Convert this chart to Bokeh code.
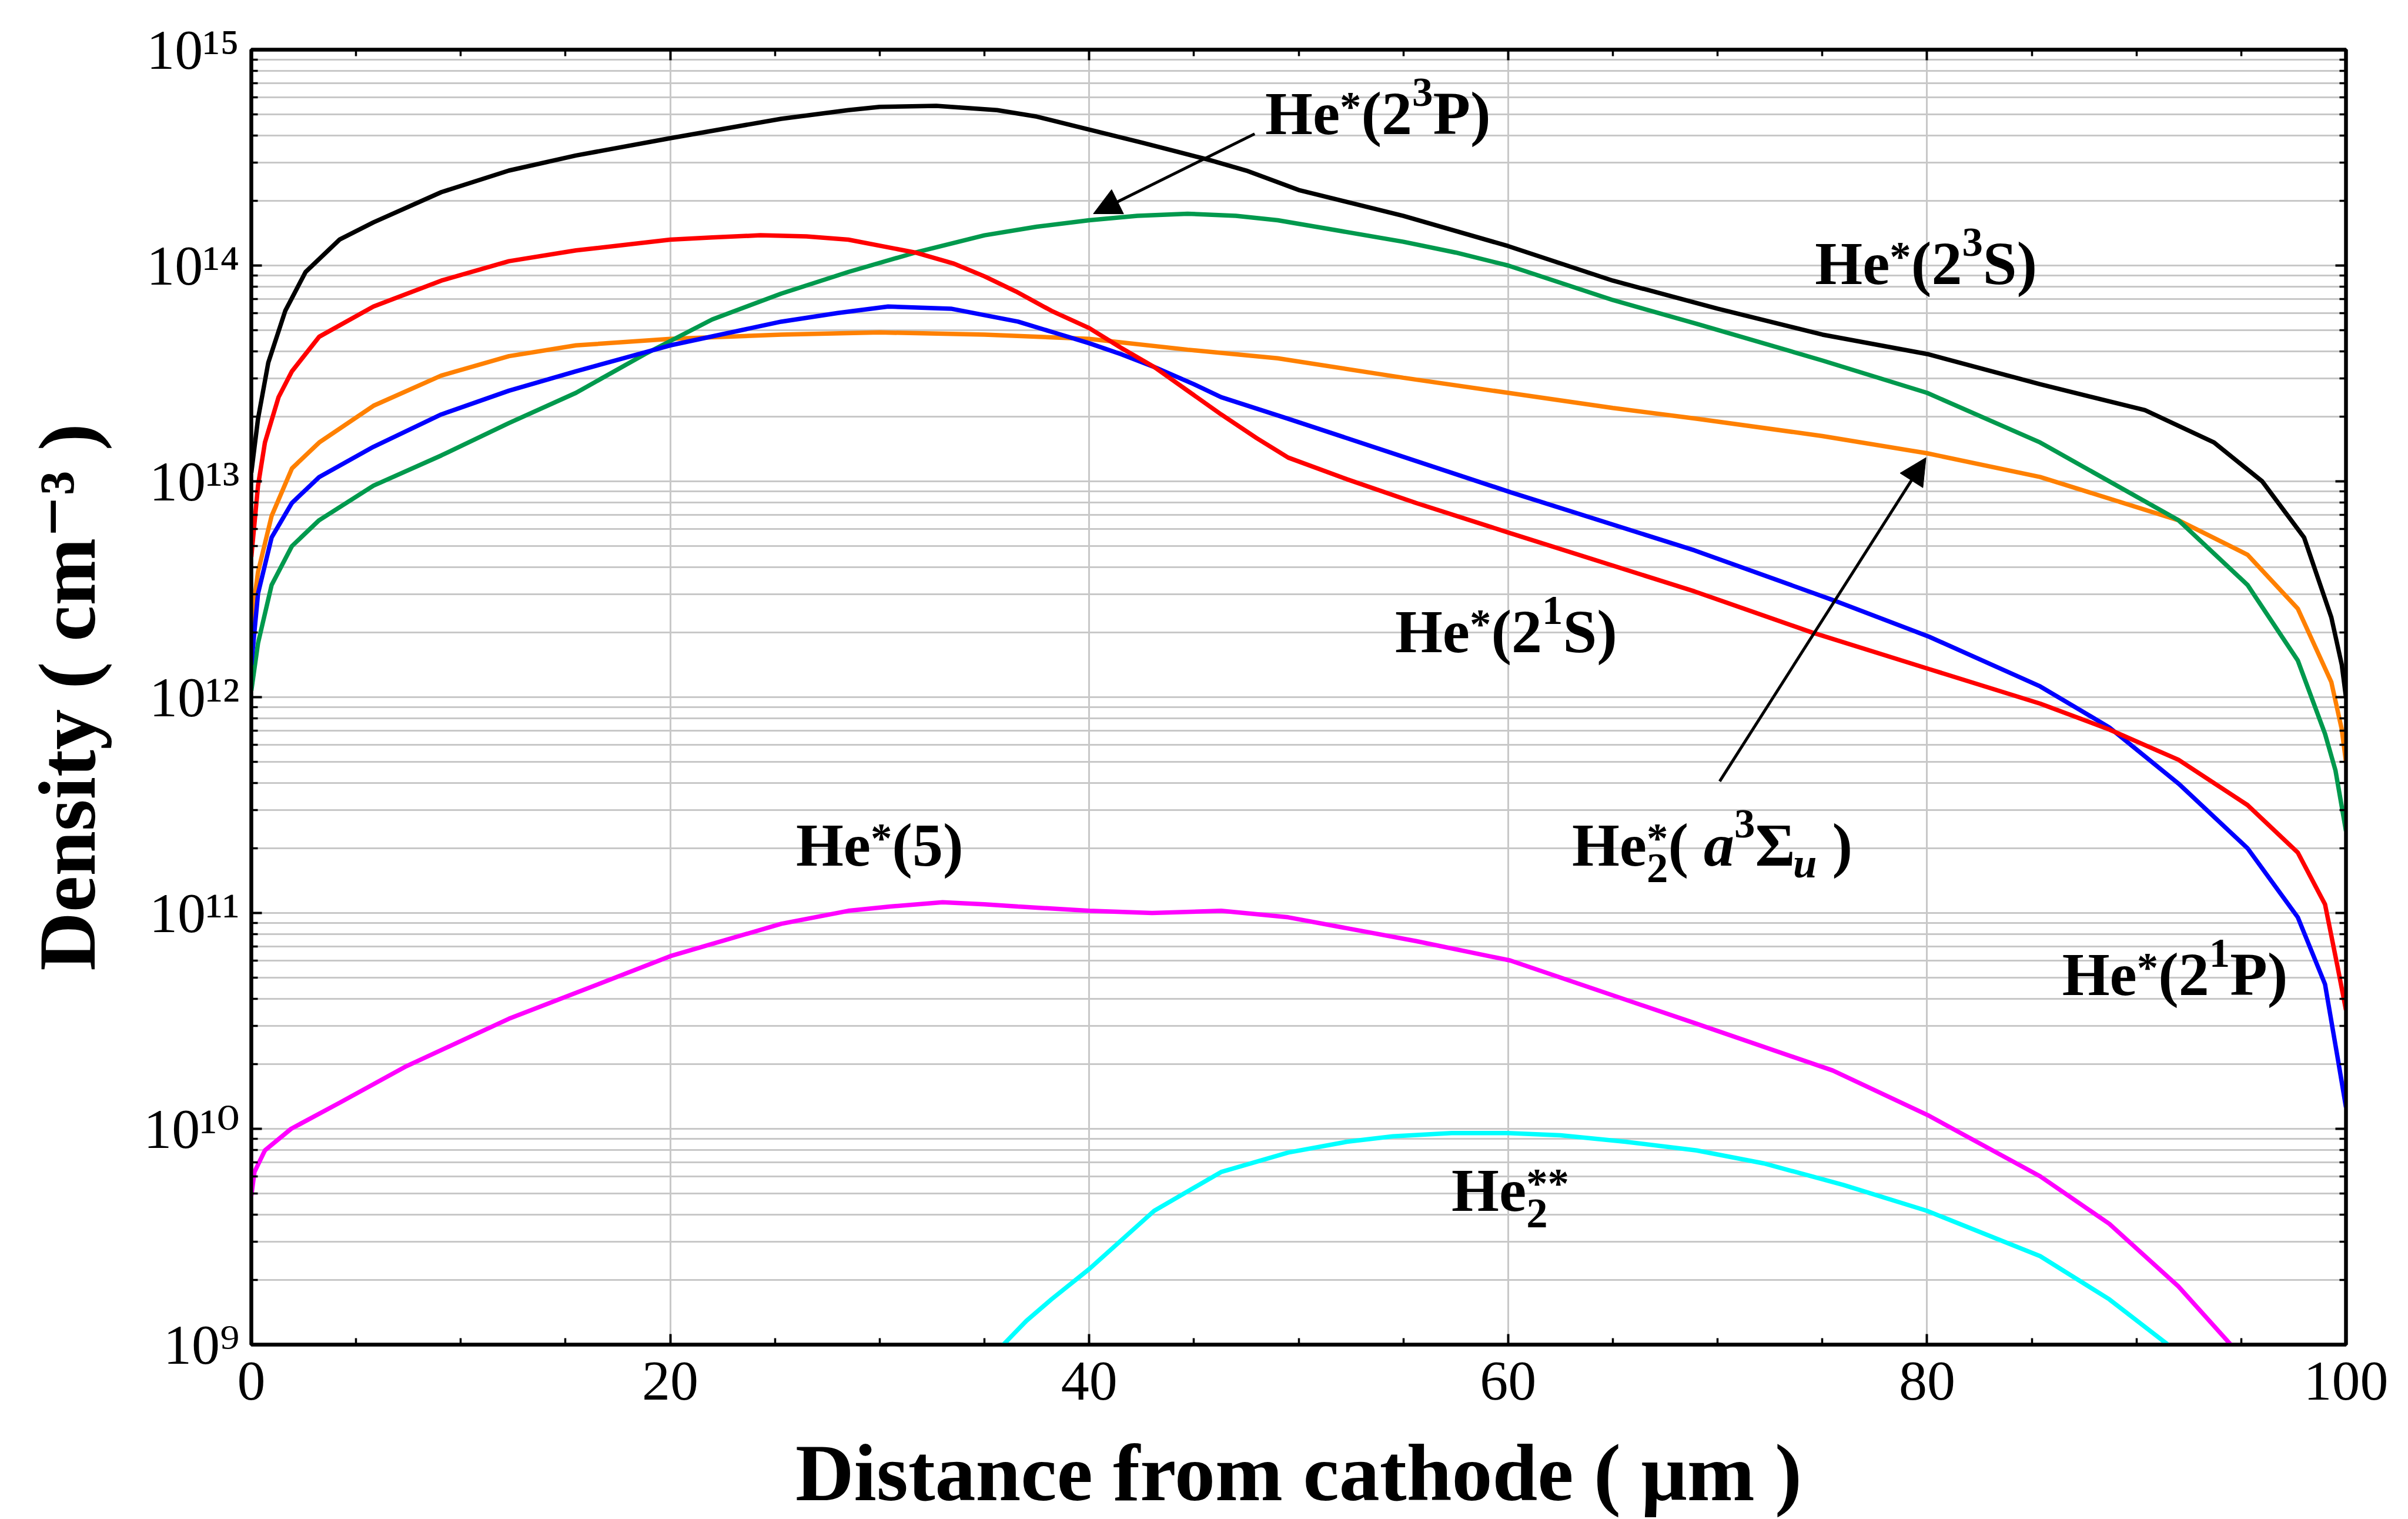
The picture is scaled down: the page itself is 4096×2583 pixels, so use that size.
import numpy as np
from bokeh.plotting import figure
from bokeh.models import (Range1d, LinearAxis, LogAxis, FixedTicker, CustomJSTickFormatter,
                          Label, Arrow, NormalHead)
from bokeh.embed import file_html
from bokeh.resources import INLINE

# ---------------- data (densities as log10 of cm^-3) ----------------
x_ticks = [0, 20, 40, 60, 80, 100]
x_minor = [5, 10, 15, 25, 30, 35, 45, 50, 55, 65, 70, 75, 85, 90, 95]
y_exponents = [9, 10, 11, 12, 13, 14, 15]
y_mantissas = [2, 3, 4, 5, 6, 7, 8, 9]

x_23S = [0, 0.32, 0.81, 1.62, 2.59, 4.21, 5.83, 9.07, 12.3, 15.5, 20, 25.3, 28.5, 30, 32.7,
         35.6, 37.5, 40, 42.5, 45.7, 47.5, 50, 55, 60, 65, 70, 75, 80, 85.4, 90.4, 93.7, 96,
         98, 99.3, 99.8, 100]
lg_23S = [13.04, 13.29, 13.55, 13.79, 13.97, 14.12, 14.20, 14.34, 14.44, 14.51, 14.59, 14.68,
          14.72, 14.735, 14.74, 14.72, 14.69, 14.63, 14.57, 14.49, 14.44, 14.35, 14.23, 14.09,
          13.93, 13.80, 13.68, 13.59, 13.45, 13.33, 13.18, 13.00, 12.74, 12.37, 12.15, 12.00]

x_21S = [0, 0.32, 0.65, 1.3, 1.94, 3.24, 5.83, 9.07, 12.3, 15.5, 20, 22, 24.3, 26.5, 28.5,
         31.7, 33.5, 35, 36.5, 38.2, 40, 41.5, 43.1, 44.7, 46.3, 48, 49.5, 52.3, 55.6, 60.1,
         68.9, 74.5, 80.1, 85.4, 88.7, 92, 95.3, 97.7, 99, 99.6, 100]
lg_21S = [12.65, 12.98, 13.18, 13.39, 13.51, 13.67, 13.81, 13.93, 14.02, 14.07, 14.12, 14.13,
          14.14, 14.135, 14.12, 14.06, 14.01, 13.95, 13.88, 13.79, 13.71, 13.62, 13.53, 13.42,
          13.31, 13.20, 13.11, 13.01, 12.90, 12.76, 12.49, 12.30, 12.13, 11.97, 11.85, 11.71,
          11.50, 11.28, 11.04, 10.75, 10.55]

x_21P = [0, 0.32, 0.97, 1.94, 3.24, 5.83, 9.07, 12.3, 15.5, 20, 25.3, 28, 30.4, 33.4, 36.6,
         38.3, 40, 41.5, 43.1, 45, 46.3, 49.5, 60.1, 68.9, 75.5, 80.1, 85.4, 88.7, 92, 95.3,
         97.7, 99, 99.6, 100]
lg_21P = [12.15, 12.48, 12.74, 12.90, 13.02, 13.16, 13.31, 13.42, 13.51, 13.63, 13.74, 13.78,
          13.81, 13.80, 13.74, 13.69, 13.64, 13.59, 13.53, 13.45, 13.39, 13.29, 12.95, 12.68,
          12.45, 12.28, 12.05, 11.86, 11.60, 11.30, 10.98, 10.67, 10.33, 10.10]

x_23P = [0, 0.32, 0.97, 1.94, 3.24, 5.83, 9.07, 12.3, 15.5, 18.8, 22, 25.3, 28.5, 31.7, 35,
         37.5, 40, 42.3, 44.7, 47, 49, 52, 55, 57.5, 60, 65, 69, 75, 80, 85.4, 92, 95.3, 97.7,
         99, 99.5, 100]
lg_23P = [12.03, 12.25, 12.52, 12.70, 12.82, 12.98, 13.12, 13.27, 13.41, 13.59, 13.75, 13.87,
          13.97, 14.06, 14.14, 14.18, 14.21, 14.23, 14.24, 14.23, 14.21, 14.16, 14.11, 14.06,
          14.00, 13.84, 13.73, 13.56, 13.41, 13.18, 12.82, 12.52, 12.17, 11.83, 11.66, 11.38]

x_a3 = [0, 0.32, 0.97, 1.94, 3.24, 5.83, 9.07, 12.3, 15.5, 20, 25.3, 30, 35, 40, 44.7, 49, 55,
        60, 65, 69, 75, 80, 85.4, 92, 95.3, 97.7, 99.3, 99.8, 100]
lg_a3 = [12.35, 12.58, 12.84, 13.06, 13.18, 13.35, 13.49, 13.58, 13.63, 13.66, 13.68, 13.69,
         13.68, 13.66, 13.61, 13.57, 13.48, 13.41, 13.34, 13.29, 13.21, 13.13, 13.02, 12.82,
         12.66, 12.41, 12.07, 11.85, 11.70]

x_he5 = [0, 0.15, 0.65, 1.9, 4.2, 7.4, 12.3, 15.5, 20, 25.3, 28.5, 30.5, 33, 35, 36.6, 40, 43,
         46.3, 49.5, 55.6, 60.1, 68.9, 75.5, 80.1, 85.4, 88.7, 92, 94.5]
lg_he5 = [9.69, 9.80, 9.90, 10.00, 10.12, 10.29, 10.51, 10.63, 10.80, 10.95, 11.01, 11.03, 11.05,
          11.04, 11.03, 11.01, 11.00, 11.01, 10.98, 10.87, 10.78, 10.49, 10.27, 10.06, 9.78,
          9.56, 9.27, 9.00]

x_he2ss = [35.9, 37, 38.2, 40, 43.1, 46.3, 49.5, 52.3, 54.5, 57.3, 60, 62.5, 65.6, 69, 72.2, 76,
           80, 85.4, 88.7, 91.5]
lg_he2ss = [9.00, 9.11, 9.21, 9.35, 9.62, 9.80, 9.89, 9.94, 9.965, 9.98, 9.98, 9.97, 9.94, 9.90,
            9.84, 9.74, 9.62, 9.41, 9.21, 9.00]

series = [
    (x_23S, lg_23S, "#000000"),
    (x_a3, lg_a3, "#ff8000"),
    (x_23P, lg_23P, "#00994d"),
    (x_21P, lg_21P, "#0000ff"),
    (x_21S, lg_21S, "#ff0000"),
    (x_he5, lg_he5, "#ff00ff"),
    (x_he2ss, lg_he2ss, "#00ffff"),
]

# ---------------- figure ----------------
FONT = "Liberation Serif"
TICKFONT = "Liberation Serif, DejaVu Serif"
p = figure(width=4096, height=2583, output_backend="svg", toolbar_location=None,
           x_range=Range1d(0, 100), y_range=Range1d(1e9, 1e15), y_axis_type="log",
           min_border_left=427, min_border_right=106, min_border_top=84, min_border_bottom=297)
p.background_fill_color = "white"
p.border_fill_color = "white"
p.outline_line_color = "black"
p.outline_line_width = 6

y_major = [10.0 ** e for e in y_exponents]
y_minor_t = [m * 10.0 ** e for e in y_exponents[:-1] for m in y_mantissas]
xt = FixedTicker(ticks=x_ticks, minor_ticks=x_minor)
yt = FixedTicker(ticks=y_major, minor_ticks=y_minor_t)

sup_fmt = CustomJSTickFormatter(code="""
const sup = {"0":"\u2070","1":"\u00b9","2":"\u00b2","3":"\u00b3","4":"\u2074","5":"\u2075",
             "6":"\u2076","7":"\u2077","8":"\u2078","9":"\u2079","-":"\u207b"};
const e = Math.round(Math.log10(tick));
let s = "";
for (const c of String(e)) { s += sup[c]; }
return "10" + s;
""")
blank = CustomJSTickFormatter(code="return '';")


def style_axis(ax):
    ax.axis_line_width = 6
    ax.axis_line_color = "black"
    ax.major_tick_in = 18
    ax.major_tick_out = 0
    ax.minor_tick_in = 11
    ax.minor_tick_out = 0
    ax.major_tick_line_width = 4
    ax.minor_tick_line_width = 3.5
    ax.major_tick_line_color = "black"
    ax.minor_tick_line_color = "black"
    ax.major_label_text_font = TICKFONT
    ax.major_label_text_font_size = "96px"
    ax.major_label_text_color = "black"


p.xaxis.ticker = xt
p.yaxis.ticker = yt
p.yaxis.formatter = sup_fmt
for ax in p.xaxis + p.yaxis:
    style_axis(ax)
    ax.axis_label_text_font = TICKFONT
    ax.axis_label_text_font_size = "138px"
    ax.axis_label_text_font_style = "bold"
    ax.axis_label_text_color = "black"
p.xaxis.major_label_standoff = 30
p.yaxis.major_label_standoff = 20
p.xaxis.axis_label = "Distance from cathode ( \u03bcm )"
p.xaxis.axis_label_standoff = 45
p.yaxis.axis_label = "Density ( cm\u207b\u00b3 )"
p.yaxis.axis_label_standoff = 50

top_ax = LinearAxis(ticker=xt, formatter=blank)
right_ax = LogAxis(ticker=yt, formatter=blank)
style_axis(top_ax)
style_axis(right_ax)
top_ax.major_label_text_font_size = "1px"
right_ax.major_label_text_font_size = "1px"
p.add_layout(top_ax, "above")
p.add_layout(right_ax, "right")

p.xgrid.ticker = xt
p.ygrid.ticker = yt
p.xgrid.grid_line_color = "#c8c8c8"
p.xgrid.grid_line_width = 3
p.ygrid.grid_line_color = "#c8c8c8"
p.ygrid.grid_line_width = 3
p.ygrid.minor_grid_line_color = "#c8c8c8"
p.ygrid.minor_grid_line_width = 3

for xs, lg, col in series:
    p.line(xs, 10.0 ** np.array(lg), line_color=col, line_width=7.5)

# ---------------- rich text labels (pieces) ----------------
WB = {' ': .25, '(': .333, ')': .333, '*': .5, 'D': .722, 'H': .778, 'P': .611, 'S': .556,
      'a': .5, 'c': .444, 'd': .556, 'e': .444, 'f': .333, 'h': .556, 'i': .278, 'm': .833,
      'n': .556, 'o': .5, 'r': .444, 's': .389, 't': .333, 'y': .5, 'u': .556,
      '\u03a3': .62, '\u03bc': .58, '\u2212': .57}
for d in "0123456789":
    WB[d] = .5

MID = 0.3375  # baseline shift (em) of a "middle"-anchored text box


def adv(s):
    return sum(WB.get(c, .5) for c in s)


def rich(x, y, pieces, size):
    pos = 0.0
    for text, sc, rise, style, a in pieces:
        fs = size * sc
        if text:
            p.add_layout(Label(x=x, y=y, text=text, text_font=FONT, text_font_size=f"{fs:.1f}px",
                               text_font_style=style, text_color="black", text_align="left",
                               text_baseline="middle", x_offset=pos,
                               y_offset=rise * size + MID * fs))
        pos += (adv(text) if a is None else a) * fs


SC, UP, DN = 0.68, 0.45, -0.28
AST = 0.22
B, BI = "bold", "bold italic"


def he_star(state):
    return [("He", 1, 0, B, None), ("*", 0.7, AST, B, None), ("(2", 1, 0, B, None),
            (state[0], SC, UP, B, None), (state[1] + ")", 1, 0, B, None)]


F = 104
rich(48.4, 10 ** 14.61, he_star("3P"), F)
rich(74.65, 10 ** 13.914, he_star("3S"), F)
rich(54.6, 10 ** 12.21, he_star("1S"), F)
rich(86.45, 10 ** 10.62, he_star("1P"), F)
rich(26.0, 10 ** 11.22, [("He", 1, 0, B, None), ("*", 0.7, AST, B, None),
                         ("(5)", 1, 0, B, None)], F)
rich(63.05, 10 ** 11.22, [("He", 1, 0, B, None), ("*", 0.7, AST, B, 0), ("2", 0.7, DN, B, None),
                          ("(", 1, 0, B, None), ("", 1, 0, B, 0.25), ("a", 1, 0, BI, None),
                          ("3", SC, UP, B, None), ("\u03a3", 1, 0, B, None),
                          ("u", 0.7, -0.2, BI, None), ("", 1, 0, B, 0.25), (")", 1, 0, B, None)], F)
rich(57.3, 10 ** 9.62, [("He", 1, 0, B, None), ("**", 0.7, AST, B, 0), ("2", 0.7, DN, B, None)], F)

# arrows
p.add_layout(Arrow(end=NormalHead(size=46, fill_color="black", line_color="black", line_width=1),
                   x_start=47.9, y_start=10 ** 14.61, x_end=40.2, y_end=10 ** 14.24,
                   line_width=5, line_color="black"))
p.add_layout(Arrow(end=NormalHead(size=46, fill_color="black", line_color="black", line_width=1),
                   x_start=70.1, y_start=10 ** 11.61, x_end=79.95, y_end=10 ** 13.11,
                   line_width=5, line_color="black"))

open("out.html", "w").write(file_html(p, INLINE))
